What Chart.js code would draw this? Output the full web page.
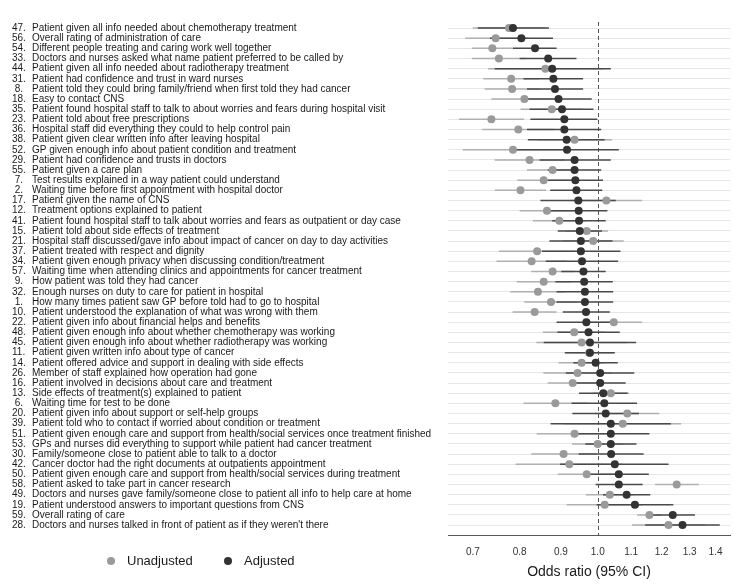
<!DOCTYPE html>
<html>
<head>
<meta charset="utf-8">
<script src="https://cdn.jsdelivr.net/npm/chart.js@4.4.1/dist/chart.umd.min.js"></script>
<style>
  html, body { margin: 0; padding: 0; background: #fff; }
  #wrap { width: 734px; height: 587px; }
</style>
</head>
<body>
<div id="wrap"><canvas id="myChart" width="734" height="587"></canvas></div>
<script>
const itemNumbers = ['47.', '56.', '54.', '33.', '44.', '31.', ' 8.', '18.', '35.', '23.', '36.', '38.', '52.', '29.', '55.', ' 7.', ' 2.', '17.', '12.', '41.', '15.', '21.', '37.', '34.', '57.', ' 9.', '32.', ' 1.', '10.', '22.', '48.', '45.', '11.', '14.', '26.', '16.', '13.', ' 6.', '20.', '39.', '51.', '53.', '30.', '42.', '50.', '58.', '49.', '19.', '59.', '28.'];

const itemLabels = [
    'Patient given all info needed about chemotherapy treatment',
    'Overall rating of administration of care',
    'Different people treating and caring work well together',
    'Doctors and nurses asked what name patient preferred to be called by',
    'Patient given all info needed about radiotherapy treatment',
    'Patient had confidence and trust in ward nurses',
    'Patient told they could bring family/friend when first told they had cancer',
    'Easy to contact CNS',
    'Patient found hospital staff to talk to about worries and fears during hospital visit',
    'Patient told about free prescriptions',
    'Hospital staff did everything they could to help control pain',
    'Patient given clear written info after leaving hospital',
    'GP given enough info about patient condition and treatment',
    'Patient had confidence and trusts in doctors',
    'Patient given a care plan',
    'Test results explained in a way patient could understand',
    'Waiting time before first appointment with hospital doctor',
    'Patient given the name of CNS',
    'Treatment options explained to patient',
    'Patient found hospital staff to talk about worries and fears as outpatient or day case',
    'Patient told about side effects of treatment',
    'Hospital staff discussed/gave info about impact of cancer on day to day activities',
    'Patient treated with respect and dignity',
    'Patient given enough privacy when discussing condition/treatment',
    'Waiting time when attending clinics and appointments for cancer treatment',
    'How patient was told they had cancer',
    'Enough nurses on duty to care for patient in hospital',
    'How many times patient saw GP before told had to go to hospital',
    'Patient understood the explanation of what was wrong with them',
    'Patient given info about financial helps and benefits',
    'Patient given enough info about whether chemotherapy was working',
    'Patient given enough info about whether radiotherapy was working',
    'Patient given written info about type of cancer',
    'Patient offered advice and support in dealing with side effects',
    'Member of staff explained how operation had gone',
    'Patient involved in decisions about care and treatment',
    'Side effects of treatment(s) explained to patient',
    'Waiting time for test to be done',
    'Patient given info about support or self-help groups',
    'Patient told who to contact if worried about condition or treatment',
    'Patient given enough care and support from health/social services once treatment finished',
    'GPs and nurses did everything to support while patient had cancer treatment',
    'Family/someone close to patient able to talk to a doctor',
    'Cancer doctor had the right documents at outpatients appointment',
    'Patient given enough care and support from health/social services during treatment',
    'Patient asked to take part in cancer research',
    'Doctors and nurses gave family/someone close to patient all info to help care at home',
    'Patient understood answers to important questions from CNS',
    'Overall rating of care',
    'Doctors and nurses talked in front of patient as if they weren\'t there'
];

const unadjOR = [0.776, 0.747, 0.740, 0.754, 0.861, 0.781, 0.783, 0.811, 0.877, 0.738,
    0.797, 0.936, 0.785, 0.823, 0.879, 0.857, 0.802, 1.025, 0.865, 0.896,
    0.969, 0.987, 0.841, 0.828, 0.879, 0.857, 0.843, 0.875, 0.835, 1.047,
    0.935, 0.955, 0.976, 0.955, 0.944, 0.931, 1.038, 0.886, 1.088, 1.074,
    0.936, 1.000, 0.907, 0.922, 0.969, 1.253, 1.035, 1.020, 1.159, 1.224];
const unadjLow = [0.700, 0.685, 0.698, 0.698, 0.731, 0.721, 0.724, 0.738, 0.802, 0.673,
    0.719, 0.842, 0.680, 0.745, 0.817, 0.795, 0.745, 0.925, 0.800, 0.831,
    0.912, 0.905, 0.754, 0.749, 0.827, 0.793, 0.779, 0.811, 0.784, 0.966,
    0.855, 0.839, 0.909, 0.894, 0.856, 0.867, 0.985, 0.809, 0.993, 0.909,
    0.840, 0.929, 0.827, 0.791, 0.892, 1.178, 0.967, 0.915, 1.119, 1.103];
const unadjHigh = [0.860, 0.820, 0.785, 0.815, 1.015, 0.846, 0.847, 0.891, 0.958, 0.810,
    0.883, 1.042, 0.905, 0.910, 0.946, 0.924, 0.863, 1.135, 0.935, 0.966,
    1.030, 1.077, 0.938, 0.915, 0.934, 0.926, 0.912, 0.944, 0.889, 1.135,
    1.022, 1.087, 1.048, 1.020, 1.041, 1.000, 1.093, 0.970, 1.192, 1.269,
    1.043, 1.076, 0.995, 1.075, 1.052, 1.335, 1.107, 1.137, 1.200, 1.358];

const adjOR = [0.785, 0.804, 0.836, 0.868, 0.878, 0.881, 0.885, 0.894, 0.903, 0.909,
    0.909, 0.915, 0.916, 0.936, 0.936, 0.938, 0.941, 0.946, 0.947, 0.948,
    0.950, 0.953, 0.953, 0.956, 0.960, 0.962, 0.964, 0.964, 0.967, 0.968,
    0.974, 0.978, 0.978, 0.994, 1.007, 1.007, 1.016, 1.019, 1.023, 1.038,
    1.038, 1.038, 1.039, 1.050, 1.062, 1.062, 1.086, 1.112, 1.239, 1.274];
const adjLow = [0.710, 0.735, 0.785, 0.800, 0.745, 0.809, 0.817, 0.813, 0.823, 0.825,
    0.817, 0.819, 0.790, 0.847, 0.867, 0.867, 0.873, 0.849, 0.872, 0.878,
    0.892, 0.871, 0.853, 0.862, 0.901, 0.886, 0.889, 0.889, 0.905, 0.889,
    0.891, 0.857, 0.911, 0.933, 0.913, 0.936, 0.948, 0.928, 0.930, 0.874,
    0.930, 0.965, 0.947, 0.898, 0.975, 0.994, 1.015, 0.997, 1.163, 1.145];
const adjHigh = [0.870, 0.880, 0.889, 0.941, 1.038, 0.959, 0.959, 0.983, 0.988, 0.999,
    1.010, 1.020, 1.062, 1.038, 1.010, 1.015, 1.013, 1.053, 1.028, 1.023,
    1.012, 1.043, 1.067, 1.060, 1.023, 1.044, 1.045, 1.045, 1.035, 1.053,
    1.065, 1.116, 1.050, 1.059, 1.110, 1.083, 1.089, 1.119, 1.125, 1.232,
    1.159, 1.117, 1.140, 1.224, 1.157, 1.137, 1.162, 1.241, 1.320, 1.417];

const xTicks = [0.7, 0.8, 0.9, 1.0, 1.1, 1.2, 1.3, 1.4];

const FONT = '"Liberation Sans", Arial, sans-serif';

// one line per row, broken by a null point
function ciLine(lows, highs) {
    const pts = [];
    lows.forEach((lo, i) => {
        pts.push({ x: lo, y: i }, { x: highs[i], y: i }, { x: highs[i], y: null });
    });
    return pts;
}

const forestExtras = {
    id: 'forestExtras',
    beforeDatasetsDraw(chart) {
        const { ctx, chartArea, scales } = chart;
        const x1 = Math.round(scales.x.getPixelForValue(1)) + 0.5;
        ctx.save();
        ctx.strokeStyle = '#555';
        ctx.lineWidth = 1;
        ctx.setLineDash([4, 3]);
        ctx.beginPath();
        ctx.moveTo(x1, chartArea.top);
        ctx.lineTo(x1, chartArea.bottom);
        ctx.stroke();
        ctx.restore();
    },
    afterDraw(chart) {
        const { ctx, scales } = chart;
        ctx.save();
        ctx.fillStyle = '#1a1a1a';
        ctx.font = '10px ' + FONT;
        ctx.textBaseline = 'middle';
        ctx.textAlign = 'left';
        itemLabels.forEach((lab, i) => {
            const y = scales.y.getPixelForValue(i);
            ctx.fillText(itemNumbers[i], 12, y);
            ctx.fillText(lab, 32, y);
        });

        // legend
        const legendItems = [
            { text: chart.data.datasets[1].label, color: chart.data.datasets[1].backgroundColor, x: 111 },
            { text: chart.data.datasets[0].label, color: chart.data.datasets[0].backgroundColor, x: 228 },
        ];
        ctx.font = '13px ' + FONT;
        legendItems.forEach(it => {
            ctx.fillStyle = it.color;
            ctx.beginPath();
            ctx.arc(it.x, 561, 4, 0, Math.PI * 2);
            ctx.fill();
            ctx.fillStyle = '#1a1a1a';
            ctx.fillText(it.text, it.x + 16, 561);
        });
        ctx.restore();
    }
};

const config = {
    type: 'scatter',
    data: {
        datasets: [
            {
                label: 'Adjusted',
                data: adjOR.map((v, i) => ({ x: v, y: i })),
                backgroundColor: '#333333',
                borderWidth: 0,
                pointRadius: 4,
                order: 0,
            },
            {
                label: 'Unadjusted',
                data: unadjOR.map((v, i) => ({ x: v, y: i })),
                backgroundColor: '#9a9a9a',
                borderWidth: 0,
                pointRadius: 4,
                order: 1,
            },
            {
                type: 'line',
                label: 'Adjusted CI',
                data: ciLine(adjLow, adjHigh),
                borderColor: '#4a4a4a',
                borderWidth: 1.5,
                pointRadius: 0,
                spanGaps: false,
                order: 2,
            },
            {
                type: 'line',
                label: 'Unadjusted CI',
                data: ciLine(unadjLow, unadjHigh),
                borderColor: '#b0b0b0',
                borderWidth: 1.5,
                pointRadius: 0,
                spanGaps: false,
                order: 3,
            },
        ],
    },
    options: {
        responsive: false,
        animation: false,
        layout: { padding: { left: 448, right: 2, top: 22, bottom: 2 } },
        plugins: {
            legend: { display: false },
            tooltip: { enabled: false },
        },
        scales: {
            x: {
                type: 'logarithmic',
                min: 0.652,
                max: 1.459,
                afterBuildTicks: (scale) => {
                    scale.ticks = xTicks.map(v => ({ value: v }));
                },
                ticks: {
                    callback: (v) => Number(v).toFixed(1),
                    color: '#333',
                    font: { family: FONT, size: 10 },
                    padding: 11,
                    maxRotation: 0,
                    autoSkip: false,
                },
                grid: { display: false, drawTicks: false },
                border: { display: true, color: '#555', width: 1 },
                title: {
                    display: true,
                    text: 'Odds ratio (95% CI)',
                    color: '#1a1a1a',
                    font: { family: FONT, size: 14 },
                    padding: { top: -5, bottom: 4 },
                },
            },
            y: {
                type: 'linear',
                reverse: true,
                min: -0.6,
                max: 50,
                afterBuildTicks: (scale) => {
                    scale.ticks = itemLabels.map((_, i) => ({ value: i }));
                },
                ticks: { display: false },
                grid: { color: '#e6e6e6', lineWidth: 1, drawTicks: false },
                border: { display: false },
            },
        },
    },
    plugins: [forestExtras],
};

const ctx = document.getElementById('myChart').getContext('2d');
const myChart = new Chart(ctx, config);
</script>
</body>
</html>
